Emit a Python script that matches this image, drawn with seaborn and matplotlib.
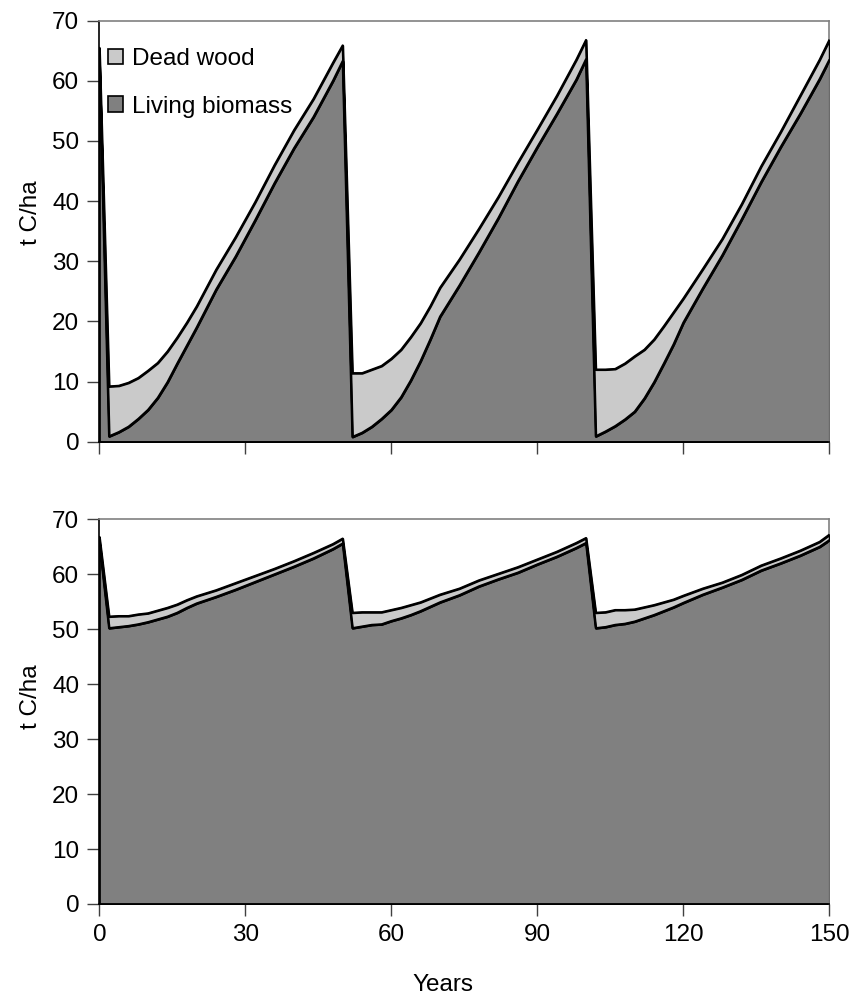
import numpy as np
import pandas as pd
import matplotlib.pyplot as plt
from matplotlib.patches import Patch
import seaborn as sns

# years of the simulation (data points)
years = [0, 2, 4, 6, 8, 10, 12, 14, 16, 18, 20, 24, 28, 32, 36, 40, 44, 48,
         50, 52, 54, 56, 58, 60, 62, 64, 66, 68, 70, 74, 78, 82, 86, 90, 94, 98,
         100, 102, 104, 106, 108, 110, 112, 114, 116, 118, 120, 124, 128, 132, 136, 140, 144, 148,
         150]

# top panel: clear-cut rotation (t C/ha)
living_top = [63.5, 0.9, 1.6, 2.5, 3.8, 5.3, 7.3, 9.9, 13.0, 16.0, 19.0, 25.3, 30.8, 36.8, 43.0, 48.8, 54.0, 60.0,
              63.3, 0.8, 1.5, 2.5, 3.8, 5.3, 7.4, 10.2, 13.4, 17.0, 20.8, 26.0, 31.5, 37.2, 43.3, 49.0, 54.5, 60.2,
              63.6, 0.9, 1.7, 2.6, 3.7, 5.0, 7.2, 9.9, 13.0, 16.2, 19.8, 25.5, 31.0, 37.0, 43.2, 49.0, 54.5, 60.3,
              63.5]
dead_top = [2.0, 8.3, 7.7, 7.3, 6.8, 6.5, 5.8, 5.1, 4.3, 3.8, 3.5, 3.3, 3.2, 3.0, 3.0, 3.0, 3.0, 3.0,
            2.6, 10.6, 9.9, 9.5, 8.8, 8.5, 7.9, 7.2, 6.3, 5.5, 4.8, 4.3, 3.9, 3.5, 3.1, 2.9, 3.0, 3.3,
            3.2, 11.1, 10.3, 9.5, 9.3, 9.2, 8.1, 7.1, 6.2, 5.3, 4.0, 3.2, 2.7, 2.5, 2.6, 2.5, 3.0, 3.2,
            3.3]

# bottom panel: continuous cover rotation (t C/ha)
living_bot = [65.8, 50.2, 50.4, 50.6, 50.9, 51.3, 51.8, 52.3, 53.0, 53.9, 54.7, 55.9, 57.2, 58.6, 60.0, 61.4, 62.9, 64.6,
              65.6, 50.2, 50.5, 50.8, 50.9, 51.5, 52.0, 52.6, 53.3, 54.1, 54.9, 56.2, 57.8, 59.1, 60.3, 61.8, 63.2, 64.8,
              65.7, 50.2, 50.4, 50.8, 51.0, 51.4, 52.0, 52.6, 53.3, 54.0, 54.8, 56.3, 57.6, 59.0, 60.7, 62.0, 63.4, 65.0,
              66.2]
dead_bot = [1.0, 2.1, 2.0, 1.8, 1.8, 1.6, 1.6, 1.6, 1.5, 1.4, 1.3, 1.2, 1.2, 1.1, 1.0, 1.0, 1.0, 0.9,
            0.9, 2.8, 2.6, 2.3, 2.2, 2.0, 1.9, 1.8, 1.6, 1.5, 1.4, 1.2, 1.1, 1.0, 1.0, 0.9, 0.9, 0.9,
            0.9, 2.8, 2.7, 2.7, 2.5, 2.2, 2.0, 1.8, 1.6, 1.4, 1.3, 1.1, 0.9, 0.9, 0.9, 0.9, 0.9, 0.9,
            1.0]

sns.set_style("ticks")
plt.rcParams['font.family'] = ['Liberation Sans', 'DejaVu Sans']
plt.rcParams['text.color'] = 'black'
plt.rcParams['axes.labelcolor'] = 'black'

living_col = '#808080'
dead_col = '#cacaca'
fs = 17.5

fig = plt.figure(figsize=(8.54, 10), dpi=100)
ax1 = fig.add_axes([0.1163, 0.5583, 0.8548, 0.4210])
ax2 = fig.add_axes([0.1163, 0.096, 0.8548, 0.3847])


def draw_panel(ax, living, dead):
    df = pd.DataFrame({'year': years, 'living': living, 'dead': dead})
    df['total'] = df['living'] + df['dead']
    ax.fill_between(df['year'], 0, df['living'], facecolor=living_col,
                    edgecolor='black', linewidth=1.5, zorder=2)
    ax.fill_between(df['year'], df['living'], df['total'], facecolor=dead_col,
                    edgecolor='black', linewidth=1.5, zorder=3)
    sns.lineplot(data=df, x='year', y='total', color='black', linewidth=1.5, ax=ax, zorder=4)
    sns.lineplot(data=df, x='year', y='living', color='black', linewidth=1.5, ax=ax, zorder=4)
    ax.set_xlim(0, 150)
    ax.set_ylim(0, 70)
    ax.set_xticks([0, 30, 60, 90, 120, 150])
    ax.set_yticks(range(0, 71, 10))
    ax.tick_params(axis='both', direction='out', length=8.5, width=1,
                   color='#404040', labelcolor='black', labelsize=fs)
    ax.tick_params(axis='y', pad=6)
    ax.tick_params(axis='x', pad=6)
    for side in ['top', 'right']:
        ax.spines[side].set_color('#808080')
        ax.spines[side].set_linewidth(1.2)
    for side in ['left', 'bottom']:
        ax.spines[side].set_color('black')
        ax.spines[side].set_linewidth(1.2)
    ax.set_xlabel('')
    ax.set_ylabel('t C/ha', fontsize=fs, color='black')


draw_panel(ax1, living_top, dead_top)
draw_panel(ax2, living_bot, dead_bot)

ax1.set_xticklabels([])
ax1.yaxis.set_label_coords(-0.078, 0.543)
ax2.yaxis.set_label_coords(-0.078, 0.538)

handles = [Patch(facecolor=dead_col, edgecolor='black', linewidth=1.2, label='Dead wood'),
           Patch(facecolor=living_col, edgecolor='black', linewidth=1.2, label='Living biomass')]
ax1.legend(handles=handles, loc='upper left', bbox_to_anchor=(0.012, 0.935),
           frameon=False, fontsize=fs, handlelength=0.62, handleheight=0.62,
           handletextpad=0.35, labelspacing=1.05, borderpad=0, borderaxespad=0)

fig.text(443 / 854, 1 - 985 / 1000, 'Years', ha='center', va='center', fontsize=fs, color='black')

fig.savefig('out.png', dpi=100)
